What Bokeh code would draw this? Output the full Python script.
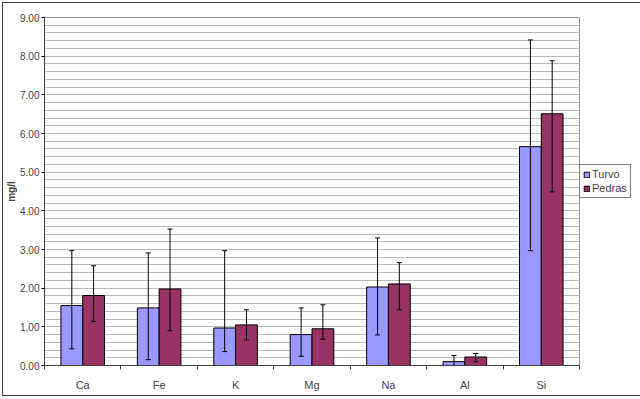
from bokeh.plotting import figure
from bokeh.models import (ColumnDataSource, Whisker, FixedTicker, Legend, LegendItem,
                          NumeralTickFormatter, Range1d, TeeHead)
from bokeh.embed import file_html
from bokeh.resources import INLINE

categories = ["Ca", "Fe", "K", "Mg", "Na", "Al", "Si"]
turvo = [1.55, 1.49, 0.97, 0.80, 2.03, 0.10, 5.66]
turvo_hi = [2.97, 2.91, 2.97, 1.49, 3.30, 0.26, 8.42]
turvo_lo = [0.43, 0.15, 0.36, 0.24, 0.79, -0.06, 2.97]
pedras = [1.81, 1.98, 1.05, 0.95, 2.11, 0.22, 6.51]
pedras_hi = [2.58, 3.53, 1.44, 1.57, 2.66, 0.31, 7.88]
pedras_lo = [1.14, 0.90, 0.66, 0.68, 1.44, 0.10, 4.49]
y_ticks = [0, 1, 2, 3, 4, 5, 6, 7, 8, 9]

BAR_W = 0.285
FONT = "Liberation Sans"

n = len(categories)
centers = [i + 0.5 for i in range(n)]
src_t = ColumnDataSource(dict(x=[c - BAR_W / 2 for c in centers], top=turvo,
                              hi=turvo_hi, lo=turvo_lo))
src_p = ColumnDataSource(dict(x=[c + BAR_W / 2 for c in centers], top=pedras,
                              hi=pedras_hi, lo=pedras_lo))

p = figure(frame_width=535, frame_height=348, output_backend="svg",
           toolbar_location=None,
           x_range=Range1d(0, n), y_range=Range1d(0, 9),
           min_border_left=20, min_border_top=14, min_border_bottom=30,
           min_border_right=0)
p.styles = {"border": "1px solid #404040", "margin-left": "2px", "margin-top": "2px"}

r_t = p.vbar(x="x", top="top", width=BAR_W, source=src_t,
             fill_color="#9999FF", line_color="black", line_width=1)
r_p = p.vbar(x="x", top="top", width=BAR_W, source=src_p,
             fill_color="#993366", line_color="black", line_width=1)

for src in (src_t, src_p):
    w = Whisker(base="x", upper="hi", lower="lo", source=src,
                line_color="black", line_width=1, level="overlay",
                upper_head=TeeHead(size=5, line_color="black", line_width=1),
                lower_head=TeeHead(size=5, line_color="black", line_width=1))
    p.add_layout(w)

# grid
p.xgrid.visible = False
p.ygrid.ticker = FixedTicker(ticks=[round(0.2 * i, 1) for i in range(46)])
p.ygrid.grid_line_color = "#b8b8b8"
p.ygrid.grid_line_width = 1
p.outline_line_color = "#909090"

# y axis
p.yaxis.ticker = FixedTicker(ticks=y_ticks)
p.yaxis.formatter = NumeralTickFormatter(format="0.00")
p.yaxis.axis_label = "mg/l"
p.yaxis.axis_label_text_font = FONT
p.yaxis.axis_label_text_font_style = "bold"
p.yaxis.axis_label_text_font_size = "10px"
p.yaxis.axis_label_standoff = 0
p.yaxis.major_label_text_font = FONT
p.yaxis.major_label_text_font_size = "10px"
p.yaxis.major_label_standoff = 2
p.yaxis.major_tick_out = 3
p.yaxis.major_tick_in = 0
p.yaxis.minor_tick_line_color = None
p.yaxis.axis_line_color = "#404040"

# x axis
p.xaxis.ticker = FixedTicker(ticks=centers, minor_ticks=list(range(n + 1)))
p.xaxis.major_label_overrides = {c: lab for c, lab in zip(centers, categories)}
p.xaxis.major_label_text_font = FONT
p.xaxis.major_label_text_font_size = "11px"
p.xaxis.major_label_standoff = 7
p.xaxis.major_tick_line_color = None
p.xaxis.minor_tick_out = 4
p.xaxis.minor_tick_in = 0
p.xaxis.minor_tick_line_color = "#404040"
p.xaxis.axis_line_color = "#404040"

legend = Legend(items=[LegendItem(label="Turvo", renderers=[r_t]),
                       LegendItem(label="Pedras", renderers=[r_p])],
                label_text_font=FONT, label_text_font_size="11px",
                glyph_width=7, glyph_height=7, label_standoff=2,
                label_height=12, spacing=2, padding=3, margin=5,
                border_line_color="black", location=(0, 167))
p.add_layout(legend, "right")

open("out.html", "w").write(file_html(p, INLINE))
